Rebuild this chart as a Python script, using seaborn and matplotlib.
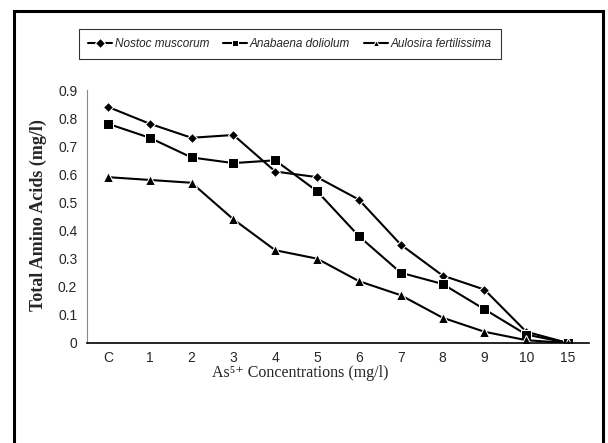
import matplotlib
matplotlib.use("Agg")
import matplotlib.pyplot as plt
from matplotlib.patches import Rectangle
import seaborn as sns
import pandas as pd

categories = ["C", "1", "2", "3", "4", "5", "6", "7", "8", "9", "10", "15"]
nostoc = [0.84, 0.78, 0.73, 0.74, 0.61, 0.59, 0.51, 0.35, 0.24, 0.19, 0.04, 0.0]
anabaena = [0.78, 0.73, 0.66, 0.64, 0.65, 0.54, 0.38, 0.25, 0.21, 0.12, 0.03, 0.0]
aulosira = [0.59, 0.58, 0.57, 0.44, 0.33, 0.30, 0.22, 0.17, 0.09, 0.04, 0.01, 0.0]
series_names = ["Nostoc muscorum", "Anabaena doliolum", "Aulosira fertilissima"]
y_ticks = [0, 0.1, 0.2, 0.3, 0.4, 0.5, 0.6, 0.7, 0.8, 0.9]

rows = []
for name, vals in zip(series_names, [nostoc, anabaena, aulosira]):
    for i, v in enumerate(vals):
        rows.append({"pos": i, "value": v, "series": name})
df = pd.DataFrame(rows)

sns.set_style("white")
plt.rcParams["font.family"] = ["Liberation Sans", "DejaVu Sans"]

fig = plt.figure(figsize=(6.08, 4.43), dpi=100)
ax = fig.add_axes([87/608, 1-343/443, (589-87)/608, (343-90)/443])

markers = {series_names[0]: "D", series_names[1]: "s", series_names[2]: "^"}
palette = {n: "black" for n in series_names}
sizes_map = {series_names[0]: 5.5, series_names[1]: 7, series_names[2]: 7}
sns.lineplot(data=df, x="pos", y="value", hue="series", style="series",
             markers=markers, dashes=False, palette=palette, ax=ax,
             linewidth=1.5, markersize=7, legend=True)
for line, name in zip(ax.get_lines(), series_names):
    line.set_markersize(sizes_map[name])

ax.set_xlim(-0.5, len(categories) - 0.5)
ax.set_ylim(0, 0.9)
ax.set_xticks(range(len(categories)))
ax.set_xticklabels(categories, fontsize=10)
ax.set_xticks([i - 0.5 for i in range(len(categories) + 1)], minor=True)
ax.tick_params(axis="x", which="major", length=0, pad=6)
ax.tick_params(axis="x", which="minor", length=5, color="#888888", width=1)
ax.set_yticks(y_ticks)
ax.set_yticklabels(["0" if t == 0 else f"{t:.1f}" for t in y_ticks], fontsize=10)
ax.tick_params(axis="y", length=4, color="#888888", width=1, pad=3)
for s in ["top", "right"]:
    ax.spines[s].set_visible(False)
ax.spines["left"].set_color("#888888")
ax.spines["bottom"].set_color("black")
ax.spines["bottom"].set_linewidth(1.2)
ax.set_xlabel("")
ax.set_ylabel("")

handles, labels = ax.get_legend_handles_labels()
ax.get_legend().remove()
for h in handles:
    h.set_markersize(5)
leg = fig.legend(handles, labels, loc="center", bbox_to_anchor=(290/608, 1-44/443),
                 ncol=3, frameon=True, fancybox=False, edgecolor="black",
                 prop={"style": "italic", "size": 8.5}, handlelength=2.0,
                 columnspacing=1.2, handletextpad=0.25, borderpad=0.75,
                 borderaxespad=0)
leg.get_frame().set_linewidth(0.8)

fig.text(38/608, 1-215/443, "Total Amino Acids (mg/l)", rotation=90,
         ha="center", va="center", fontsize=13, fontweight="bold",
         family=["Liberation Serif", "DejaVu Serif"])
fig.text(300/608, 1-373/443, "As\u2075\u207a Concentrations (mg/l)",
         ha="center", va="center", fontsize=11.5,
         family=["Liberation Serif", "DejaVu Serif"])

fig.patches.append(Rectangle((14/608, -0.05), (603-14)/608, 1-11/443+0.05,
                             transform=fig.transFigure, fill=False,
                             edgecolor="black", linewidth=2.2))

fig.savefig("out.png", dpi=100)
